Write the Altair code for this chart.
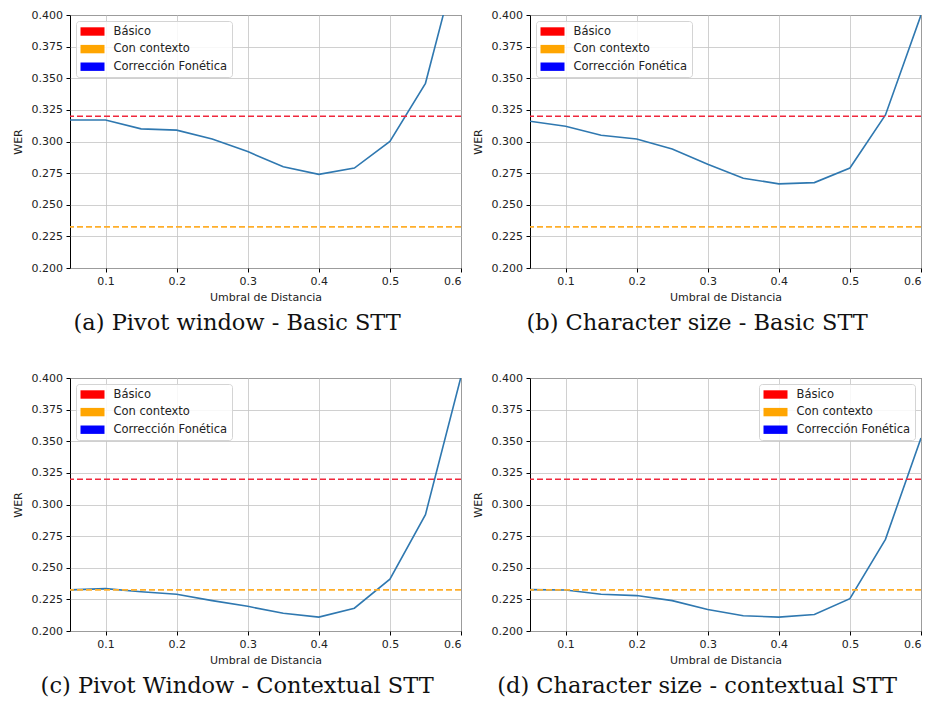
import altair as alt
import pandas as pd

# ---- data ----
umbral = [0.05, 0.10, 0.15, 0.20, 0.25, 0.30, 0.35, 0.40, 0.45, 0.50, 0.55, 0.60]
wer_a = [0.317, 0.317, 0.310, 0.309, 0.302, 0.292, 0.280, 0.274, 0.279, 0.300, 0.346, 0.454]
wer_b = [0.316, 0.312, 0.305, 0.302, 0.294, 0.282, 0.271, 0.2665, 0.2675, 0.279, 0.321, 0.400]
wer_c = [0.2325, 0.2335, 0.231, 0.229, 0.224, 0.2195, 0.214, 0.211, 0.218, 0.241, 0.292, 0.401]
wer_d = [0.2327, 0.2324, 0.229, 0.228, 0.224, 0.217, 0.212, 0.211, 0.213, 0.2255, 0.2725, 0.3525]

basico = 0.320
contexto = 0.2325

legend_labels = ["Básico", "Con contexto", "Corrección Fonética"]
legend_colors = ["#ff0000", "#ffa500", "#0000ff"]

captions = [
    "(a) Pivot window - Basic STT",
    "(b) Character size - Basic STT",
    "(c) Pivot Window - Contextual STT",
    "(d) Character size - contextual STT",
]

x_ticks = [0.1, 0.2, 0.3, 0.4, 0.5, 0.6]
y_ticks = [0.200, 0.225, 0.250, 0.275, 0.300, 0.325, 0.350, 0.375, 0.400]
x_domain = [0.05, 0.60]
y_domain = [0.200, 0.400]

LINE_COLOR = "#2f78b0"
RED = "#f0283c"
ORANGE = "#ffae2a"


def panel(values, caption, legend_orient):
    df = pd.DataFrame({"umbral": umbral, "wer": values})
    xs = alt.Scale(domain=x_domain, nice=False, zero=False)
    ys = alt.Scale(domain=y_domain, nice=False, zero=False)
    x_axis = alt.Axis(values=x_ticks, format=".1f", title="Umbral de Distancia",
                      labelOverlap=False)
    y_axis = alt.Axis(values=y_ticks, format=".3f", title="WER", labelOverlap=False)
    x = alt.X("umbral:Q", scale=xs, axis=x_axis)
    y = alt.Y("wer:Q", scale=ys, axis=y_axis)

    line = alt.Chart(df).mark_line(color=LINE_COLOR, strokeWidth=1.6, clip=True).encode(x=x, y=y)

    rule_b = alt.Chart(pd.DataFrame({"wer": [basico]})).mark_rule(
        color=RED, strokeWidth=1.6, strokeDash=[6, 3]
    ).encode(y=y)
    rule_c = alt.Chart(pd.DataFrame({"wer": [contexto]})).mark_rule(
        color=ORANGE, strokeWidth=1.6, strokeDash=[6, 3]
    ).encode(y=y)

    leg_df = pd.DataFrame({"serie": legend_labels, "umbral": [0.3] * 3, "wer": [-1.0] * 3})
    leg = alt.Chart(leg_df).mark_point(filled=True, clip=True, opacity=0).encode(
        x=x,
        y=y,
        color=alt.Color(
            "serie:N",
            scale=alt.Scale(domain=legend_labels, range=legend_colors),
            legend=alt.Legend(
                title=None,
                orient=legend_orient,
                offset=6,
                symbolType="M-2,-0.7L2,-0.7L2,0.7L-2,0.7Z",
                symbolSize=144,
                symbolOffset=6,
                symbolStrokeWidth=0,
                symbolOpacity=1,
                labelOffset=15,
                labelFont="DejaVu Sans",
                labelFontSize=11.5,
                labelColor="#222222",
                padding=4.5,
                rowPadding=5.6,
                strokeColor="#d4d4d4",
                fillColor="rgba(255,255,255,0.85)",
                cornerRadius=3,
            ),
        ),
    )

    return alt.layer(line, rule_b, rule_c, leg).properties(
        width=391,
        height=253,
        title=alt.Title(
            caption,
            orient="bottom",
            anchor="middle",
            frame="bounds",
            font="DejaVu Serif",
            fontSize=22.5,
            fontWeight="normal",
            color="#111111",
            offset=9,
        ),
    )


pa = panel(wer_a, captions[0], "top-left")
pb = panel(wer_b, captions[1], "top-left")
pc = panel(wer_c, captions[2], "top-left")
pd_ = panel(wer_d, captions[3], "top-right")

chart = (
    alt.concat(pa, pb, pc, pd_, columns=2, spacing={"row": 110, "column": 69}, bounds="flush")
    .resolve_scale(color="independent")
    .properties(padding={"left": 4, "top": 0, "right": 0, "bottom": 0}, background="white")
    .configure_view(stroke="black", strokeWidth=1)
    .configure_axis(
        grid=True,
        gridColor="#c4c4c4",
        gridWidth=0.8,
        domain=False,
        tickColor="black",
        tickSize=4,
        tickWidth=1,
        labelFont="DejaVu Sans",
        labelFontSize=11,
        labelColor="#222222",
        labelPadding=3.5,
        titleFont="DejaVu Sans",
        titleFontSize=11,
        titleFontWeight="normal",
        titleColor="#222222",
    )
    .configure_axisX(titlePadding=5)
    .configure_axisY(titlePadding=7.5)
)

chart.save("out.html", embed_options={"renderer": "svg", "actions": False})
